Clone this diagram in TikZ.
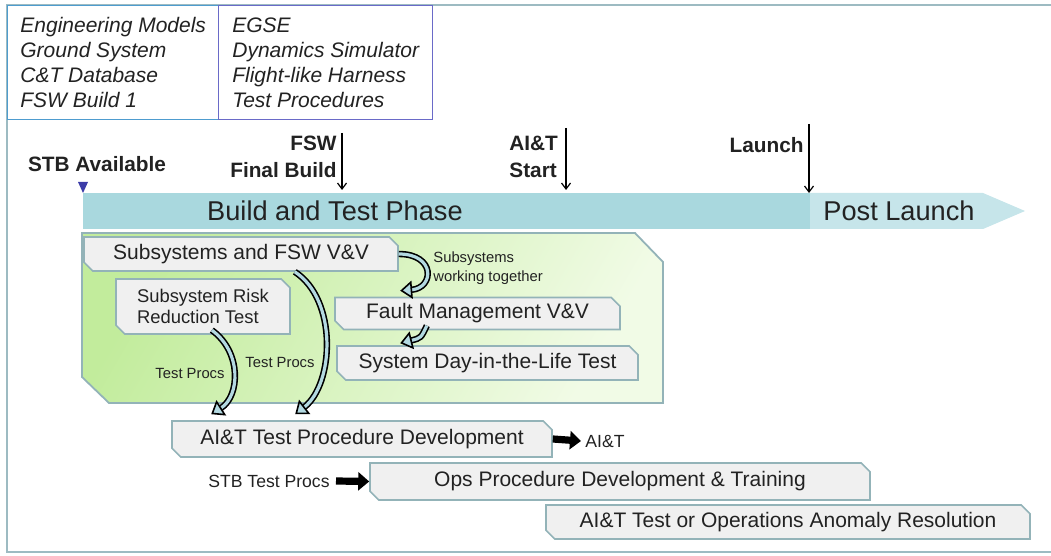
\documentclass[tikz,border=0pt]{standalone}
\usepackage{fontspec}
\setmainfont{Liberation Sans}
\usetikzlibrary{arrows.meta,shapes.misc}
\definecolor{framecol}{HTML}{9DBBC2}
\definecolor{modelblue}{HTML}{4E9CCF}
\definecolor{egsepurple}{HTML}{6A6AC8}
\definecolor{barteal}{HTML}{A9D8DE}
\definecolor{postteal}{HTML}{C6E5EA}
\definecolor{stbblue}{HTML}{3C3CA8}
\definecolor{greenA}{HTML}{C2EC9C}
\definecolor{greenB}{HTML}{F1FBE6}
\definecolor{boxfill}{HTML}{F0F0F0}
\definecolor{boxline}{HTML}{93B3B8}
\definecolor{arrowfill}{HTML}{B3D9E1}
\definecolor{txt}{HTML}{222222}

\begin{document}
\begin{tikzpicture}[x=0.5pt, y=-0.5pt, text=txt,
  topbox/.style = {line width=0.7pt, align=left, inner sep=0pt, font=\fontsize{10.5}{12.6}\selectfont\itshape},
  mile/.style = {inner sep=0pt, font=\fontsize{10.4}{13.5}\selectfont\bfseries},
  phase/.style = {inner sep=0pt, font=\fontsize{13.6}{15}\selectfont},
  box/.style = {draw=boxline, fill=boxfill, line width=0.8pt, chamfered rectangle,
    chamfered rectangle corners={north east,south west}, chamfered rectangle sep=2.2pt,
    inner sep=0pt, font=\fontsize{10.5}{12}\selectfont},
  note/.style = {inner sep=0pt, font=\fontsize{7.4}{9.5}\selectfont},
  milearrow/.style = {line width=0.6pt, -{Straight Barb[length=3pt,width=4.5pt]}},
  curvarrow/.style = {draw=black, line width=0.8pt, double=arrowfill, double distance=1.6pt,
    -{Triangle[length=6pt,width=9pt,fill=arrowfill]}},
  blockarrow/.style = {line width=3.6pt, -{Triangle[length=5.5pt,width=9pt]}}]
\useasboundingbox (0,0) rectangle (1051,556);

% outer frame
\draw[framecol, line width=1.2pt] (1051,5) -- (7,5) -- (7,552) -- (1051,552);

% resources
\node[topbox, draw=modelblue, anchor=north west, minimum width=105.5pt, minimum height=57pt] (models) at (7,5)
  {Engineering Models\\Ground System\\C\&T Database\\FSW Build 1};
\node[topbox, draw=egsepurple, anchor=north west, minimum width=107pt, minimum height=57pt] (egse) at (218,5)
  {EGSE\\Dynamics Simulator\\Flight-like Harness\\Test Procedures};

% timeline
\fill[barteal] (83,193) rectangle (810,229);
\fill[postteal] (810,193) -- (983,193) -- (1025,211) -- (983,229) -- (810,229) -- cycle;
\node[phase] (build) at (335,211) {Build and Test Phase};
\node[phase] (post) at (899,211) {Post Launch};
\fill[stbblue] (78,182) -- (88,182) -- (83,193) -- cycle;

% milestones
\node[mile] (stb) at (97,164) {STB Available};
\node[mile, align=right, anchor=east] (fsw) at (337,157) {FSW\\Final Build};
\node[mile, align=left, anchor=west] (aitstart) at (509,157) {AI\&T\\Start};
\node[mile, anchor=east] (launch) at (804,145) {Launch};
\coordinate (fswtop) at (342,133);
\coordinate (fswbar) at (342,190);
\coordinate (aittop) at (566,128);
\coordinate (aitbar) at (566,190);
\coordinate (launchtop) at (809,124);
\coordinate (launchbar) at (809,193);
\draw[milearrow] (fswtop) -- (fswbar);
\draw[milearrow] (aittop) -- (aitbar);
\draw[milearrow] (launchtop) -- (launchbar);

% build and test area
\draw[boxline, line width=0.9pt, left color=greenA, right color=greenB, shading angle=60]
  (82,233) -- (635,233) -- (663,262) -- (663,403) -- (109,403) -- (82,377) -- cycle;

\node[box, minimum width=157pt, minimum height=17pt] (vv) at (241,254) {Subsystems and FSW V\&V};
\node[box, minimum width=87pt, minimum height=27.5pt, align=left, font=\fontsize{9.2}{10.5}\selectfont] (risk) at (203,306.5)
  {Subsystem Risk\\Reduction Test};
\node[box, minimum width=142.5pt, minimum height=16pt] (fault) at (477.5,313.5) {Fault Management V\&V};
\node[box, minimum width=150.5pt, minimum height=17pt] (ditl) at (487.5,363) {System Day-in-the-Life Test};
\node[box, minimum width=190pt, minimum height=18pt] (aitdev) at (362,439) {AI\&T Test Procedure Development};
\node[box, minimum width=250pt, minimum height=18.5pt] (ops) at (620,481.5) {Ops Procedure Development \& Training};
\node[box, minimum width=242pt, minimum height=17pt] (anomaly) at (788,522) {AI\&T Test or Operations Anomaly Resolution};

% flows
\draw[curvarrow] (vv.east) .. controls (436,254) and (434,288) .. ([xshift=33pt,yshift=3pt]fault.north west);
\draw[curvarrow] ([xshift=44pt]fault.south west) .. controls (421,338) .. ([xshift=32pt,yshift=1pt]ditl.north west);
\draw[curvarrow] ([xshift=46pt]risk.south west) .. controls (242,352) and (240,396) .. ([xshift=20pt,yshift=3pt]aitdev.north west);
\draw[curvarrow] ([xshift=-52pt]vv.south east) .. controls (338,300) and (334,384) .. ([xshift=62pt,yshift=3pt]aitdev.north west);
\node[note, align=left, anchor=west] (together) at (433,268) {Subsystems\\working together};
\node[note] (procsa) at (190,373) {Test Procs};
\node[note] (procsb) at (280,362) {Test Procs};

% hand-offs
\node[note, font=\fontsize{8.8}{10}\selectfont, anchor=west] (aitout) at (585,441) {AI\&T};
\node[note, font=\fontsize{8.8}{10}\selectfont, anchor=east] (stbprocs) at (330,481) {STB Test Procs};
\draw[blockarrow] (aitdev.east) -- ([xshift=-2pt]aitout.west);
\draw[blockarrow] ([xshift=3pt]stbprocs.east) -- (ops.west);
\end{tikzpicture}
\end{document}
